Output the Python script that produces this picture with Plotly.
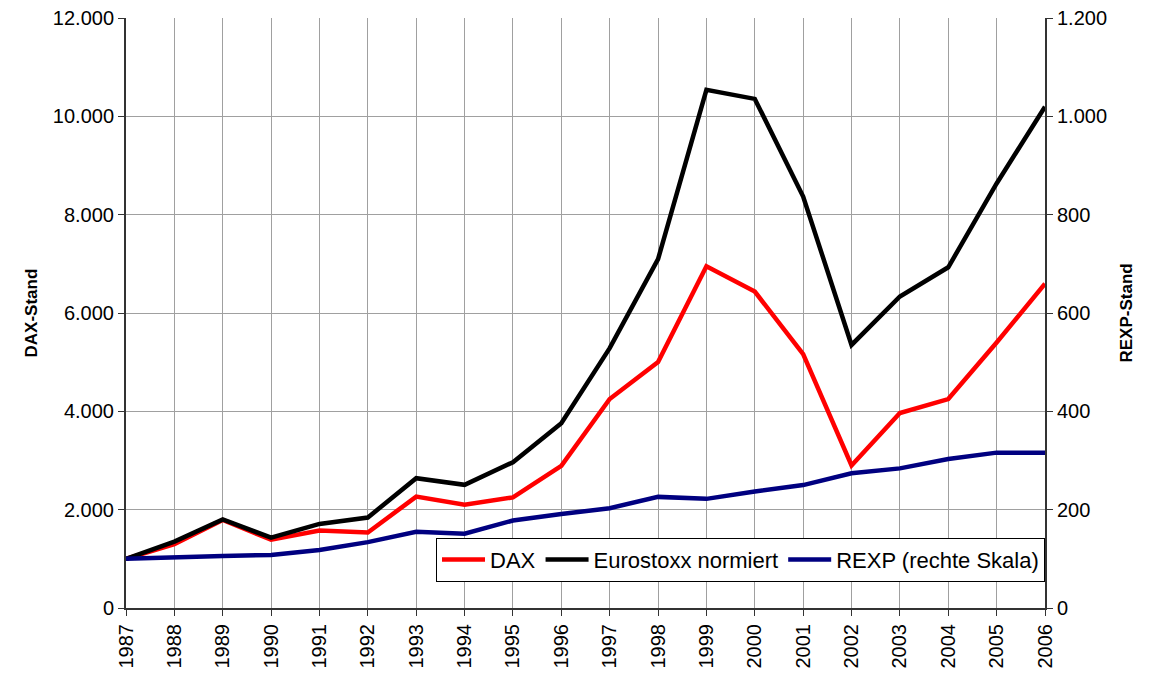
"""DAX, Eurostoxx (normiert) und REXP, 1987-2006."""

import plotly.graph_objects as go

YEARS = [str(y) for y in range(1987, 2007)]

DAX = [1000, 1300, 1790, 1390, 1575, 1535, 2265, 2100, 2250, 2890,
       4250, 5005, 6950, 6435, 5165, 2900, 3965, 4250, 5400, 6595]

EUROSTOXX = [1000, 1350, 1800, 1430, 1710, 1840, 2640, 2505, 2965, 3760,
             5285, 7095, 10540, 10355, 8370, 5350, 6335, 6930, 8635, 10195]

REXP = [100, 104, 106, 108, 118, 134, 155, 151, 178, 191,
        203, 226, 222, 237, 250, 274, 284, 303, 316, 316]

FONT = "Arial, Liberation Sans, sans-serif"
AXIS_COLOR = "#333333"
GRID_COLOR = "#a0a0a0"

fig = go.Figure()
fig.add_trace(go.Scatter(x=YEARS, y=DAX, name="DAX", mode="lines",
                         line=dict(color="#ff0000", width=4.5)))
fig.add_trace(go.Scatter(x=YEARS, y=EUROSTOXX, name="Eurostoxx normiert",
                         mode="lines", line=dict(color="#000000", width=4.5)))
fig.add_trace(go.Scatter(x=YEARS, y=REXP, name="REXP (rechte Skala)",
                         mode="lines", yaxis="y2",
                         line=dict(color="#000080", width=4.5)))

axis_common = dict(
    showline=True,
    linecolor=AXIS_COLOR,
    linewidth=2,
    ticks="outside",
    ticklen=6,
    tickcolor=AXIS_COLOR,
    zeroline=False,
    automargin=False,
    tickfont=dict(size=20),
)

fig.update_layout(
    width=1150,
    height=673,
    margin=dict(l=126, r=105, t=18, b=65, autoexpand=False),
    paper_bgcolor="white",
    plot_bgcolor="white",
    separators=",.",
    font=dict(family=FONT, size=18, color="black"),
    showlegend=True,
    legend=dict(
        orientation="h",
        x=1.0,
        xanchor="right",
        y=0.082,
        yanchor="middle",
        bgcolor="white",
        bordercolor="black",
        borderwidth=1,
        font=dict(size=22),
        itemwidth=43,
    ),
    xaxis=dict(
        type="category",
        range=[0, 19],
        showgrid=True,
        gridcolor=GRID_COLOR,
        gridwidth=1,
        tickangle=-90,
        **axis_common,
    ),
    yaxis=dict(
        range=[0, 12000],
        tickvals=list(range(0, 12001, 2000)),
        tickformat=",d",
        showgrid=True,
        gridcolor=GRID_COLOR,
        gridwidth=1,
        **axis_common,
    ),
    yaxis2=dict(
        overlaying="y",
        side="right",
        range=[0, 1200],
        tickvals=list(range(0, 1201, 200)),
        tickformat=",d",
        showgrid=False,
        **axis_common,
    ),
    annotations=[
        dict(text="<b>DAX-Stand</b>", textangle=-90, xref="paper",
             yref="paper", x=0, y=0.5, xshift=-107, showarrow=False,
             font=dict(size=17)),
        dict(text="<b>REXP-Stand</b>", textangle=-90, xref="paper",
             yref="paper", x=1, y=0.5, xshift=92, showarrow=False,
             font=dict(size=17)),
    ],
)

fig.write_html(
    "out.html",
    config={"displayModeBar": False},
    post_script="document.body.style.margin='0';",
)
